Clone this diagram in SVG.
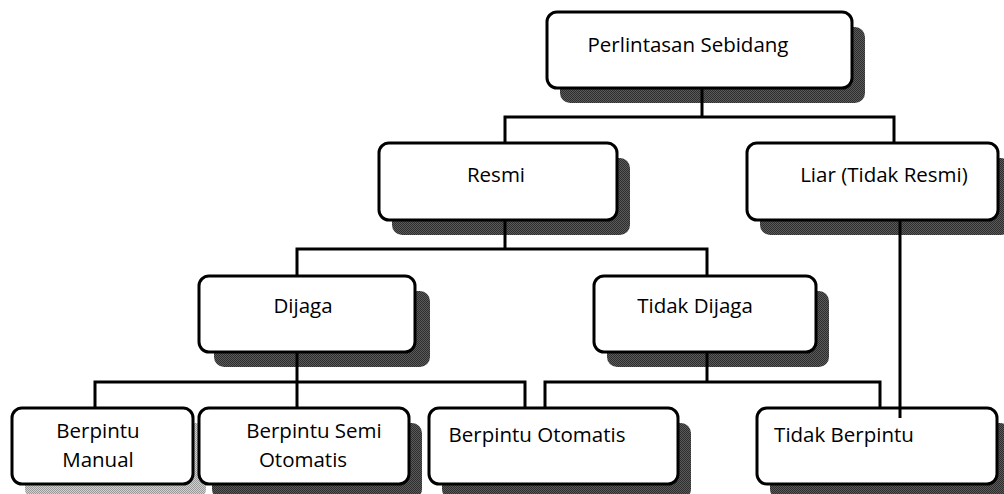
<svg xmlns="http://www.w3.org/2000/svg" width="1004" height="494" viewBox="0 0 1004 494">
<defs>
<pattern id="dk" width="2" height="2" patternUnits="userSpaceOnUse"><rect width="2" height="2" fill="#5a5a5a"/><rect width="1" height="1" fill="#2e2e2e"/><rect x="1" y="1" width="1" height="1" fill="#2e2e2e"/></pattern>
<pattern id="lt" width="2" height="2" patternUnits="userSpaceOnUse"><rect width="2" height="2" fill="#d0d0d0"/><rect width="1" height="1" fill="#9a9a9a"/><rect x="1" y="1" width="1" height="1" fill="#9a9a9a"/></pattern>
</defs>
<style>
.box{fill:#fff;stroke:#000;stroke-width:3}
.sh{fill:url(#dk)}
.shl{fill:url(#lt)}
.ln{fill:none;stroke:#000;stroke-width:3}
text{font-family:"Open Sans","Noto Sans",sans-serif;font-size:20.5px;fill:#000;text-anchor:middle}
</style>
<rect width="1004" height="494" fill="#fff"/>
<g id="shadows">
<rect class="sh" x="560" y="27" width="305" height="76" rx="10"/>
<rect class="sh" x="392" y="158" width="238" height="77" rx="10"/>
<rect class="sh" x="760" y="158" width="251" height="77" rx="10"/>
<rect class="sh" x="214" y="291" width="216" height="76" rx="10"/>
<rect class="sh" x="607" y="291" width="222" height="76" rx="10"/>
<rect class="shl" x="25" y="423" width="181" height="76" rx="10"/>
<rect class="sh" x="212" y="423" width="210" height="76" rx="10"/>
<rect class="sh" x="442" y="423" width="249" height="76" rx="10"/>
<rect class="sh" x="770" y="423" width="240" height="76" rx="10"/>
</g>
<g id="connectors">
<path class="ln" d="M702,88 V117"/>
<path class="ln" d="M505,143 V117 H894 V143"/>
<path class="ln" d="M505,220 V249"/>
<path class="ln" d="M297,276 V249 H707 V276"/>
<path class="ln" d="M297,352 V408"/>
<path class="ln" d="M95,408 V382 H525 V408"/>
<path class="ln" d="M707,352 V382"/>
<path class="ln" d="M545,408 V382 H880 V408"/>
</g>
<g id="n-perlintasan"><rect class="box" x="547" y="12" width="305" height="76" rx="10"/><text x="688" y="52">Perlintasan Sebidang</text></g>
<g id="n-resmi"><rect class="box" x="379" y="143" width="238" height="77" rx="10"/><text x="496" y="182">Resmi</text></g>
<g id="n-liar"><rect class="box" x="747" y="143" width="251" height="77" rx="10"/><text x="884" y="182">Liar (Tidak Resmi)</text></g>
<g id="n-dijaga"><rect class="box" x="199" y="276" width="216" height="76" rx="10"/><text x="303" y="313">Dijaga</text></g>
<g id="n-tidakdijaga"><rect class="box" x="594" y="276" width="222" height="76" rx="10"/><text x="695" y="313">Tidak Dijaga</text></g>
<g id="n-manual"><rect class="box" x="12" y="408" width="181" height="76" rx="10"/><text x="98" y="438">Berpintu</text><text x="98" y="467">Manual</text></g>
<g id="n-semi"><rect class="box" x="199" y="408" width="210" height="76" rx="10"/><text x="314" y="438">Berpintu Semi</text><text x="303" y="467">Otomatis</text></g>
<g id="n-otomatis"><rect class="box" x="429" y="408" width="249" height="76" rx="10"/><text x="537" y="442">Berpintu Otomatis</text></g>
<g id="n-tidakberpintu"><rect class="box" x="757" y="408" width="240" height="76" rx="10"/><text x="844" y="442">Tidak Berpintu</text></g>
<g id="connectors-over">
<path class="ln" d="M900,220 V418"/>
</g>
</svg>
